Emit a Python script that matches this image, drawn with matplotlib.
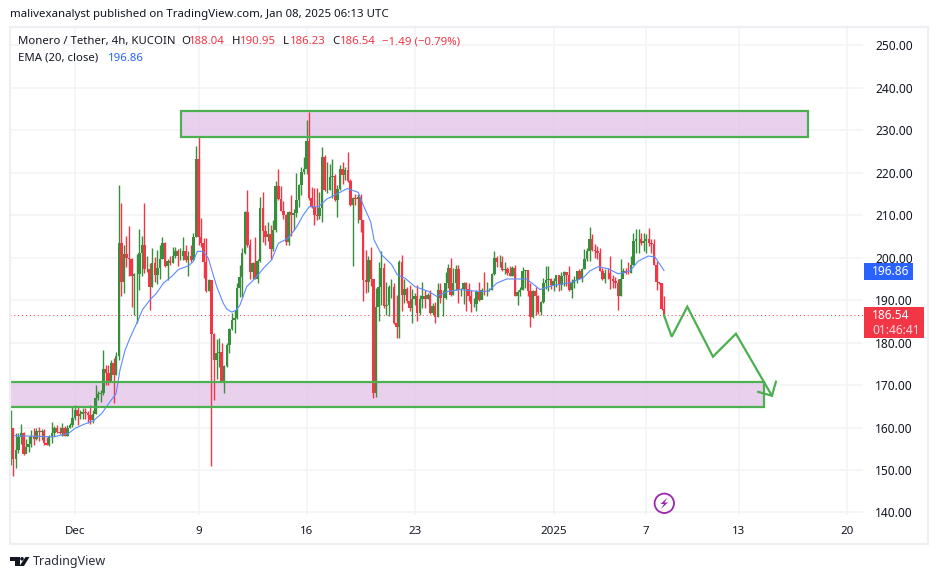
import numpy as np
import matplotlib
matplotlib.use("Agg")
import matplotlib.pyplot as plt
from matplotlib.patches import Rectangle, Circle, Polygon

plt.rcParams['font.family'] = ['Noto Sans', 'DejaVu Sans']

# ---------- data ----------
first_open = 155.3
closes = [159.8,152.7,154.7,157.7,158.6,153.8,155.5,156.1,158,157.4,159.2,159,159.1,156.3,156,157.8,158.8,159.8,159,158.8,
160,158,160,160.7,162.2,164.1,162.7,163.3,163.6,163.5,163,161.8,163.3,167,168,168.2,173.8,172.9,171,175.3,172.4,176.8,
203.4,194.2,200.9,199.9,199.7,195.6,196.2,196.2,201.1,203,197.3,197.4,193.2,198.7,196,197.6,199.7,203.4,198.1,199.2,198.8,200.5,201.6,200.5,200.5,201.5,199.4,200.4,199.4,204.9,223.2,205,203.4,198.9,192.1,194.8,
182,175.9,177.6,177.9,170.8,174.5,179.5,183.1,185.4,185.7,192.8,
195.5,201.2,210.7,203,196.7,198.8,195.1,199.2,211.8,206.2,205,205.5,202.1,206.5,216.9,213.8,211,210,203.6,210.7,210,210.5,213.6,217.1,220.1,221,227.5,214,212,210,209.8,211.8,223.8,216,216,219.1,219.2,213.6,216.3,221,219.6,220.6,218,212.4,214,213.9,214.2,208.9,
194.8,194.4,199.5,194.9,168.1,188.5,193.1,197.6,188.7,188.9,193.2,193.2,184.6,183.8,199.1,191.3,192.6,189.7,188.1,190.3,191.1,187.1,190.3,191.1,190.3,191.3,187,188.7,186,192.5,190.5,190.6,194,197.6,191.3,194,197.3,192.5,192.6,194,192.6,191.1,189.2,189.2,192,190,192.5,192.4,192.4,192.4,196.2,199.9,198.9,198.9,197.2,197.4,196.5,195.8,197.5,190.9,192,192.4,196.9,197,
192.2,186,192.2,190.9,187.2,189.6,194.1,194.7,195,193.5,194.6,196,193.5,195.7,196.6,196,192.4,194.1,194.7,196.9,195,197.3,199.8,201.6,204.3,201.8,201.6,201.2,196.9,195.1,196.5,196.3,195.1,194.5,194.1,191.1,195.1,196.9,196.5,196.4,198.4,203.9,204.4,204.5,203.4,204,204.3,203.4,203.2,198.4,194.3,194,188,186.54]
highs = [164.1,160,158.6,158.6,160.8,159,157.3,158,159.5,159.8,159.8,160.1,159.6,159.6,157.8,158.2,161.4,160.4,160.6,160.2,
161,160.3,160.6,161,165.1,165.3,165.1,164.1,164.5,164.5,163.9,165.3,164.1,170,168.5,168.8,178.2,174.7,174.7,175.9,176.3,177.8,
217.2,212.9,203,205.2,207.4,200,196.4,201,206.8,205.1,213,200.4,198.7,202.2,200.1,201.9,203.1,205,203.8,199.6,200.4,202.5,202.6,202.1,202.3,204.9,203.1,201.5,203.1,205.8,226.4,228.6,209.3,204.6,204.6,195,
194.5,182.2,180.8,181,179.8,174.8,179.9,183.4,186.9,187.8,194,
198.3,202.2,210.9,216,204.5,199,204.9,199.8,214.4,215.4,207.6,208.4,207.6,208.9,218.1,221,217,213.3,210.4,211,214.8,211.4,219.9,217.4,221.4,223.8,232.4,234.4,216.6,216.5,216.5,215.5,226.2,224.3,222.6,222,223.2,219.8,217.1,221.9,222.6,221.4,224.8,218.5,214.3,215,215,215,
208.9,201.9,200.3,202.5,194.9,192.8,199.1,201.5,198.8,194.4,193.6,195,194,191.3,199.4,200.7,195,193.2,193.5,192.6,191.7,193.5,191.3,194.2,192.5,191.7,192.5,189.3,189.5,194,194,192.5,196.7,198.6,199.9,197.6,198.3,198.3,192.9,194.4,194.4,194,192.5,190.6,192.4,194.2,192.9,196.6,194.2,192.9,196.4,201.6,200.5,200.6,200.5,198.9,197.9,198.1,198.1,198.3,192.4,193.1,197.8,197,
197.2,194.1,192.4,193.1,191.3,189.8,195.3,198,198,195.2,195.2,196,196,196.6,196.8,196.7,198,194.9,195.7,196.9,197.3,197.7,202.1,202.4,207.3,205.5,203.3,202.7,202.4,197.7,197.3,197.7,200.5,195.9,195.5,195.1,199.6,197.7,197.7,198.9,200.4,205.9,206.7,206.8,205.8,205.8,205.5,207,204.3,204.5,199.2,194.3,194,190.95]
lows = [151.2,148.7,150.4,153.9,156.1,153.6,154.1,154.2,155.5,155.9,157.1,156.9,157.1,155.9,155.9,155.7,156.3,158,158.6,158.4,
158,157.9,157.9,159.8,160.2,161.8,160.6,161.9,161.9,161.9,161.1,160.9,161,163.3,166.5,166,167.7,170,170,171.2,165.8,172.4,
176,190.9,191.7,197.8,195.6,188.5,186.6,184.6,192.4,195.6,196.3,196.7,187.6,193.2,194.4,193.9,195.1,199.7,197.9,194.8,198.4,198.7,199.9,198,199.4,199.4,199.1,195.7,199.1,199.4,204.9,203,202.6,195.2,192,192.1,
151,166.5,171.4,174.3,170.7,168.2,174.3,177.5,183,182.2,185.6,
190.8,190.8,200.8,202.6,195.1,195.1,195,194,199,203.8,203,204,199.8,201.5,206.1,213.6,211,209.2,203,203,205.1,206.6,209.7,212,214.8,219.8,219.8,213.6,211.8,207.8,208.9,209.2,208.5,215.8,215.2,215.9,214,213.4,209.7,215.9,217.3,218.3,217.8,212.2,198,212.4,208.1,206.1,
189.7,191.7,192,193.3,167,167.3,185,188.8,188.2,186.6,186.3,190.5,184.4,181.2,181,187.4,189.3,189.3,187.4,184.6,188.9,185.2,186.6,188.1,188.1,190.3,186.8,186.5,184.7,186,189.3,186.3,190.2,192.8,190.9,191.3,192.5,189.3,191,189,187.4,189.9,187.3,188.3,187.4,189.7,190.2,191.3,190.9,192.1,192.4,196,197.9,197.9,196.8,196.2,196,195.7,195.7,190.9,188.9,190.9,192.4,192.8,
191.1,183.8,185.9,186.4,186.8,186.4,189.4,192.6,192.2,192.6,192.2,193.2,192.2,192.5,193.3,193.3,192.2,190.4,192.9,194.1,194.9,194.3,197.3,199.3,199.3,201.6,200,199.8,196.9,194.8,194.1,195.1,192.7,192.9,192.9,187.7,191,196.1,196.1,196.1,196.5,198.4,201.2,201.2,203.1,201.6,201.2,202.8,201.2,198.4,192.4,193.8,187.8,186.23]

ema_days = [-3.89,-1.41,-0.43,0,0.54,1.19,1.73,2.27,2.66,2.91,3.24,3.56,4.10,4.36,4.86,5.29,5.72,6.26,6.69,7.34,7.66,7.92,8.31,8.63,8.85,9.18,9.60,9.83,10.15,10.47,10.69,11.12,11.66,12.20,12.74,13.17,13.81,14.36,14.79,15.17,15.76,16.30,16.73,17.16,17.64,18.35,18.67,19.15,19.37,19.86,20.51,20.87,21.37,22.02,22.88,23.43,24.18,24.94,26.02,26.77,27.31,27.96,29.26,30.12,30.98,32.06,32.92,33.35,33.89,34.54,35.19,35.95,36.48,37.13,37.56,38.15]
ema_vals = [158.1,157.8,158.6,159.8,160.7,161.6,163.3,166.1,168,173.5,178.2,181.1,185.4,187.7,190.1,191.7,194,195.6,197.2,198.1,199.1,201.5,201.5,199.9,197.2,193.2,189.3,187.9,187.2,187.7,188.9,193.2,195.1,197.5,199.5,203.4,204.6,207.3,210.1,212,212,213.8,214.6,215.4,216.3,215.4,212.4,208.5,204.2,200.7,198.4,196,195.2,193.2,192.1,190.9,192.1,192.5,192.1,192.1,194,195,195,192.5,193.5,194.1,195.3,196.9,197.9,197.4,196.2,196.9,199.2,200.4,200.2,197]

zone_top_days = [6.87, 47.47]
zone_top_prices = [228.4, 234.6]
zone_bot_right_day = 44.6
zone_bot_prices = [164.85, 170.7]
path_days = [38.15,38.65,39.66,41.32,42.81,45.14]
path_prices = [186.44,181.4,188.47,176.69,182.11,167.5]
head_days = [44.25,45.14,45.4]
head_prices = [168.4,167.5,170.8]

y_ticks = list(range(140, 260, 10))
x_ticks = [0, 8, 15, 22, 31, 37, 43, 50]
x_labels = ['Dec', '9', '16', '23', '2025', '7', '13', '20']
first_candle_day = -4.167
last_close = 186.54
last_ema = 196.86

# ---------- style ----------
W, H = 939, 579
GREEN, RED = '#388e3c', '#f23645'
GRID = '#f2f3f6'
TXT = '#131722'
BLUE = '#2962ff'
LINE = '#4caf50'

fig = plt.figure(figsize=(W/100, H/100), dpi=100, facecolor='white')
L, R, T, B = 10, 862.7, 28, 515
ax = fig.add_axes([L/W, 1-B/H, (R-L)/W, (B-T)/H])
ax.set_xlim(-4.21, 51.02)
ax.set_ylim(139.4, 254.12)
for s in ax.spines.values():
    s.set_visible(False)
ax.yaxis.tick_right()
ax.set_yticks(y_ticks)
ax.set_yticklabels([f'{v:.2f}' for v in y_ticks], fontsize=8.6, color=TXT)
ax.set_xticks(x_ticks)
ax.set_xticklabels(x_labels, fontsize=8.3, color=TXT)
ax.get_xticklabels()[4].set_fontweight('bold')
ax.tick_params(axis='y', length=0, pad=9)
ax.tick_params(axis='x', length=0, pad=8)
ax.grid(True, color=GRID, lw=1.1)
ax.set_axisbelow(True)

closes = np.array(closes); highs = np.array(highs); lows = np.array(lows)
opens = np.r_[first_open, closes[:-1]]
days = first_candle_day + np.arange(len(closes)) / 6
cols = [GREEN if c >= o else RED for o, c in zip(opens, closes)]

# drawings below the candles
ax.add_patch(Rectangle((zone_top_days[0], zone_top_prices[0]), zone_top_days[1]-zone_top_days[0],
                       zone_top_prices[1]-zone_top_prices[0], fc='#e1bee7', alpha=0.7, ec='none', zorder=1.5))
ax.add_patch(Rectangle((-4.21, zone_bot_prices[0]), zone_bot_right_day+4.21,
                       zone_bot_prices[1]-zone_bot_prices[0], fc='#e1bee7', alpha=0.7, ec='none', zorder=1.5))

ax.vlines(days, lows, highs, colors=cols, lw=1.0, zorder=3)
ax.bar(days, np.abs(closes-opens), bottom=np.minimum(opens, closes), width=0.16, color=cols, lw=0, zorder=3.1)
ax.plot(ema_days, ema_vals, color='#5a8bff', lw=0.8, zorder=4)
ax.axhline(last_close, color=RED, lw=0.7, ls=(0, (1, 3)), zorder=2)

ax.add_patch(Rectangle((zone_top_days[0], zone_top_prices[0]), zone_top_days[1]-zone_top_days[0],
                       zone_top_prices[1]-zone_top_prices[0], fc='none', ec=LINE, lw=1.6, zorder=5))
ax.add_patch(Rectangle((-5, zone_bot_prices[0]), zone_bot_right_day+5,
                       zone_bot_prices[1]-zone_bot_prices[0], fc='none', ec=LINE, lw=1.6, zorder=5))
ax.plot(path_days, path_prices, color=LINE, lw=1.6, zorder=6, solid_joinstyle='miter')
ax.plot(head_days, head_prices, color=LINE, lw=1.6, zorder=6, solid_joinstyle='miter')

# overlay in pixel coordinates for the frame, captions and price tags
ov = fig.add_axes([0, 0, 1, 1], facecolor='none')
ov.set_xlim(0, W); ov.set_ylim(H, 0); ov.axis('off')
ov.add_patch(Rectangle((10, 27), 918, 517, fc='none', ec='#eeeff4', lw=1.6))

def t(x, y, s, color=TXT, size=8.2, **kw):
    ov.text(x, y, s, color=color, fontsize=size, va='center', ha=kw.pop('ha', 'left'), **kw)

t(10, 14.5, 'malivexanalyst published on TradingView.com, Jan 08, 2025 06:13 UTC', size=8.25)
t(18, 41.5, 'Monero / Tether, 4h, KUCOIN')
for x, s, c in [(181, 'O', TXT), (189, '188.04', RED), (232, 'H', TXT), (240, '190.95', RED),
                (283, 'L', TXT), (290, '186.23', RED), (332, 'C', TXT), (340, '186.54', RED),
                (382.5, '\u22121.49 (\u22120.79%)', RED)]:
    t(x, 41.5, s, color=c)
t(18, 58.5, 'EMA (20, close)')
t(108, 58.5, f'{last_ema:.2f}', color=BLUE)

ov.add_patch(Rectangle((864, 263), 49, 16.5, fc=BLUE, ec='none', zorder=6))
t(872, 271.5, f'{last_ema:.2f}', color='white', size=8.6, zorder=7)
ov.add_patch(Rectangle((864, 307), 60, 30.7, fc=RED, ec='none', zorder=6))
t(872, 315.5, f'{last_close:.2f}', color='white', size=8.6, zorder=7)
t(872, 330, '01:46:41', color='#fbd5d9', size=8.6, zorder=7)

# lightning badge
ov.add_patch(Circle((664.3, 503.3), 9.7, fc='white', ec='#9c27b0', lw=1.3, zorder=6))
ov.add_patch(Polygon([(667.5, 497.5), (660.5, 504), (664, 504), (661, 509), (668, 502.5), (664.5, 502.5)],
                     fc='#9c27b0', ec='none', zorder=7))

# TradingView logo
ov.add_patch(Polygon([(10, 557), (19.5, 557), (19.5, 566), (14.5, 566), (14.5, 560.5), (10, 560.5)], fc='#131722', ec='none'))
ov.add_patch(Circle((22, 558.8), 1.8, fc='#131722', ec='none'))
ov.add_patch(Polygon([(25.5, 557), (29.5, 557), (24, 566), (19.5, 566)], fc='#131722', ec='none'))
t(33, 561.5, 'TradingView', size=9.0, color='#2a2e39')

fig.savefig('out.png', dpi=100)
